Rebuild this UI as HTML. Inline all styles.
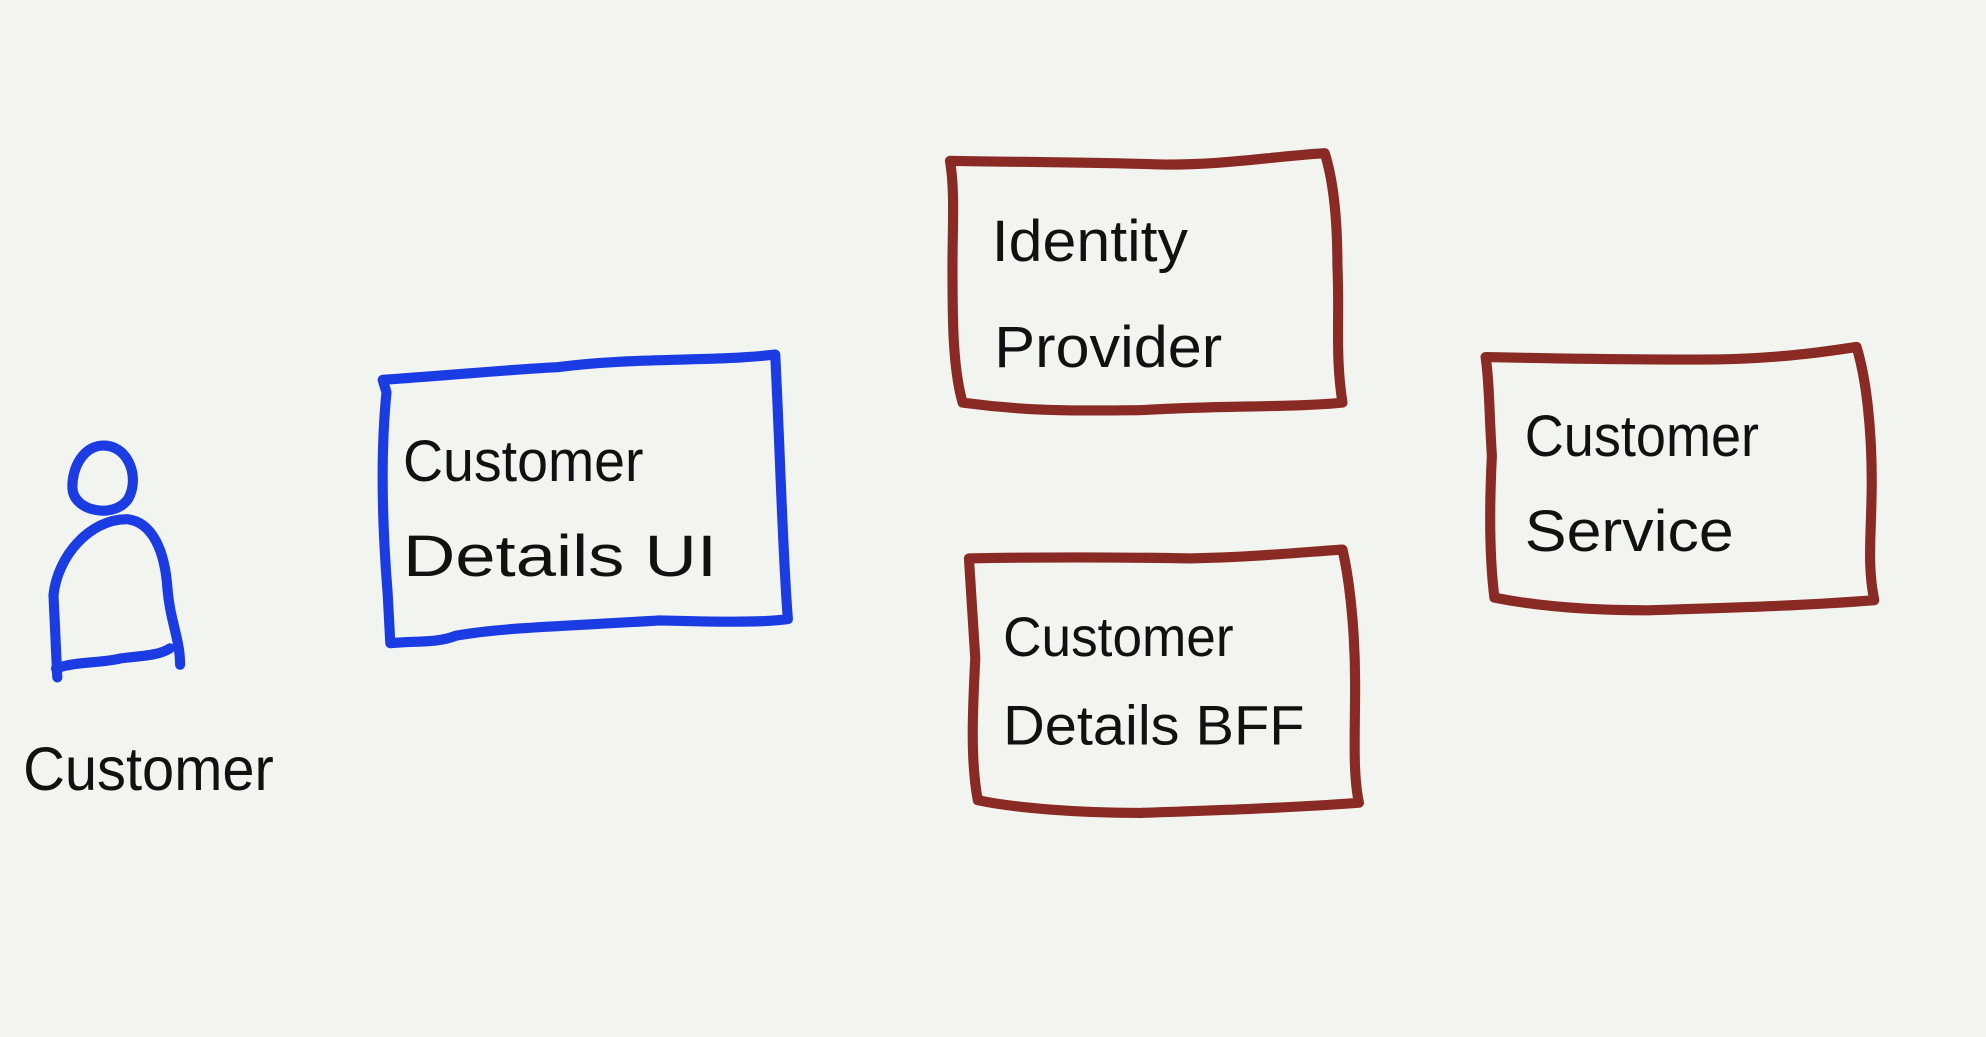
<!DOCTYPE html>
<html><head><meta charset="utf-8"><style>
html,body{margin:0;padding:0;background:#f2f4ef;}
svg{display:block;}
text{font-family:"Liberation Sans",sans-serif;font-weight:normal;fill:#111;}
</style></head><body>
<svg width="1986" height="1037" viewBox="0 0 1568 819" xmlns="http://www.w3.org/2000/svg">
<rect width="1568" height="819" fill="#f2f4ef"/>
<g fill="none" stroke-linecap="round" stroke-linejoin="round" stroke-width="8">
 <g stroke="#1b3be3">
  <path d="M84 352 C66 350 56 370 57 386 C58 404 90 410 101 394 C110 378 102 354 84 352 Z"/>
  <path d="M45 535 L42 470 C45 440 70 410 100 410 C120 412 130 435 132 465 C134 490 142 505 142 525"/>
  <path d="M44 528 C60 522 80 524 95 520 C110 518 125 518 134 512"/>
 </g>
 <path stroke="#1b3be3" d="M302 300 L305 310 C300 360 302 420 306 470 L308 508 C330 506 345 508 360 502 C400 495 460 494 520 490 C560 491 600 492 622 489 C618 440 616 360 612 280 C560 286 500 282 440 290 C400 292 360 296 302 300 Z"/>
 <path stroke="#8a2a25" d="M750 127 C800 128 860 128 920 130 C970 130 1000 124 1046 121 C1052 140 1056 170 1056 210 C1058 250 1054 280 1060 318 C1020 322 960 320 900 324 C860 324 820 326 760 318 C752 290 752 250 752 210 C752 180 754 150 750 127 Z"/>
 <path stroke="#8a2a25" d="M765 441 C820 440 880 440 940 441 C990 440 1030 436 1060 434 C1066 460 1070 500 1070 540 C1070 580 1068 610 1073 634 C1020 638 960 640 900 642 C850 642 800 638 772 632 C766 600 768 560 770 520 C768 490 766 460 765 441 Z"/>
 <path stroke="#8a2a25" d="M1173 282 C1220 283 1280 284 1340 284 C1400 284 1440 278 1466 274 C1474 300 1478 340 1478 380 C1478 420 1474 445 1480 474 C1430 478 1370 480 1300 482 C1250 482 1210 478 1180 472 C1176 440 1176 400 1178 360 C1176 330 1176 300 1173 282 Z"/>
</g>
<text x="18" y="624" font-size="48" textLength="198" lengthAdjust="spacingAndGlyphs">Customer</text>
<text x="318" y="380" font-size="46" textLength="190" lengthAdjust="spacingAndGlyphs">Customer</text>
<text x="318" y="455" font-size="46" textLength="248" lengthAdjust="spacingAndGlyphs">Details UI</text>
<text x="783" y="206" font-size="46" textLength="155" lengthAdjust="spacingAndGlyphs">Identity</text>
<text x="785" y="290" font-size="46" textLength="180" lengthAdjust="spacingAndGlyphs">Provider</text>
<text x="792" y="518" font-size="44" textLength="182" lengthAdjust="spacingAndGlyphs">Customer</text>
<text x="792" y="588" font-size="44" textLength="238" lengthAdjust="spacingAndGlyphs">Details BFF</text>
<text x="1204" y="360" font-size="46" textLength="185" lengthAdjust="spacingAndGlyphs">Customer</text>
<text x="1204" y="435" font-size="46" textLength="165" lengthAdjust="spacingAndGlyphs">Service</text>
</svg>
</body></html>
